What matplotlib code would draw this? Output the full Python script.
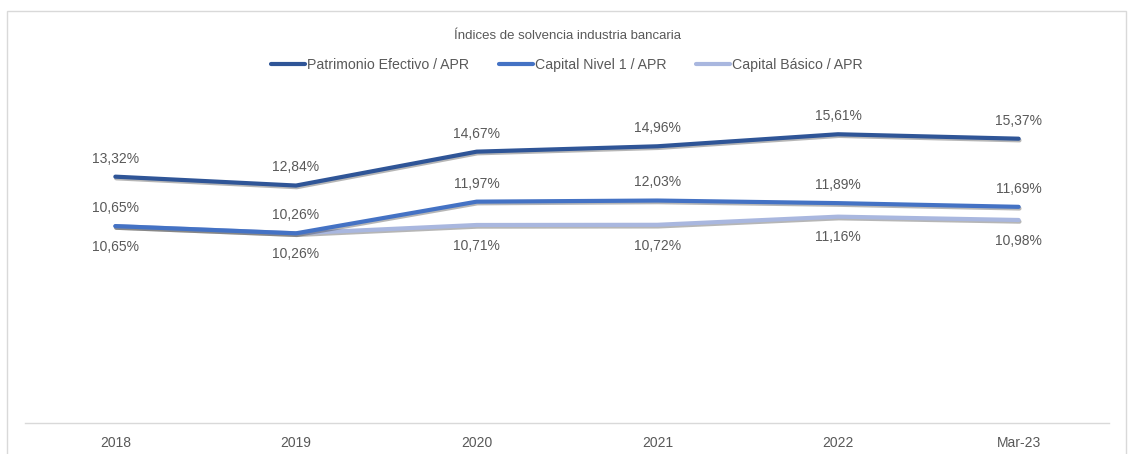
import matplotlib
matplotlib.use("Agg")
import matplotlib.pyplot as plt
import matplotlib.patheffects as pe
from matplotlib.patches import Rectangle

plt.rcParams['font.family'] = ['Liberation Sans', 'DejaVu Sans']

categories = ["2018", "2019", "2020", "2021", "2022", "Mar-23"]
patrimonio = [13.32, 12.84, 14.67, 14.96, 15.61, 15.37]
nivel1 = [10.65, 10.26, 11.97, 12.03, 11.89, 11.69]
basico = [10.65, 10.26, 10.71, 10.72, 11.16, 10.98]
series_names = ["Patrimonio Efectivo / APR", "Capital Nivel 1 / APR", "Capital Básico / APR"]
title = "Índices de solvencia industria bancaria"

colors = ["#2F5597", "#4472C4", "#A9B7DF"]
text_color = "#595959"

W, H = 1128, 454
fig = plt.figure(figsize=(W / 100, H / 100), dpi=100)
ax = fig.add_axes([25 / W, 1 - 423.3 / H, (1109 - 25) / W, (423.3 - 90) / H])

x = list(range(len(categories)))
shadow = [pe.SimpleLineShadow(offset=(0.6, -1.2), shadow_color="#303030", alpha=0.35),
          pe.Normal()]
datasets = [patrimonio, nivel1, basico]
order = [2, 1, 0]
lines = {}
for i in order:
    ln, = ax.plot(x, datasets[i], color=colors[i], lw=3.0, solid_capstyle="round",
                  solid_joinstyle="round", path_effects=shadow, label=series_names[i],
                  zorder=3 + (2 - i))
    lines[i] = ln

for i, xi in enumerate(x):
    ax.annotate(f"{patrimonio[i]:.2f}%".replace(".", ","), (xi, patrimonio[i]),
                xytext=(0, 13), textcoords="offset points", ha="center", va="center",
                fontsize=10, color=text_color)
    ax.annotate(f"{nivel1[i]:.2f}%".replace(".", ","), (xi, nivel1[i]),
                xytext=(0, 13), textcoords="offset points", ha="center", va="center",
                fontsize=10, color=text_color)
    ax.annotate(f"{basico[i]:.2f}%".replace(".", ","), (xi, basico[i]),
                xytext=(0, -15), textcoords="offset points", ha="center", va="center",
                fontsize=10, color=text_color)

ax.set_xlim(-0.5, len(categories) - 0.5)
ax.set_ylim(0, 18)
ax.set_xticks(x)
ax.set_xticklabels(categories, fontsize=10, color=text_color)
ax.tick_params(axis="x", length=0, pad=9)
ax.set_yticks([])
for s in ["top", "right", "left"]:
    ax.spines[s].set_visible(False)
ax.spines["bottom"].set_color("#D9D9D9")
ax.spines["bottom"].set_linewidth(1.0)
ax.set_facecolor("none")

fig.text(568 / W, 1 - 36 / H, title, ha="center", va="center", fontsize=9.5, color=text_color)

handles = [lines[0], lines[1], lines[2]]
leg = fig.legend(handles, series_names, loc="center", bbox_to_anchor=(567 / W, 1 - 65 / H),
                 ncol=3, frameon=False, fontsize=10.2, handlelength=2.4, handletextpad=0.15,
                 columnspacing=2.1, labelcolor=text_color)
for h in leg.legend_handles:
    h.set_path_effects([])
    h.set_linewidth(3.0)

fig.patches.append(Rectangle((7 / W, -0.1), (1126 - 7) / W, 1.1 - 11 / H,
                             transform=fig.transFigure, fill=False, edgecolor="#D9D9D9",
                             linewidth=1.0, clip_on=False))

fig.savefig("out.png", dpi=100)
